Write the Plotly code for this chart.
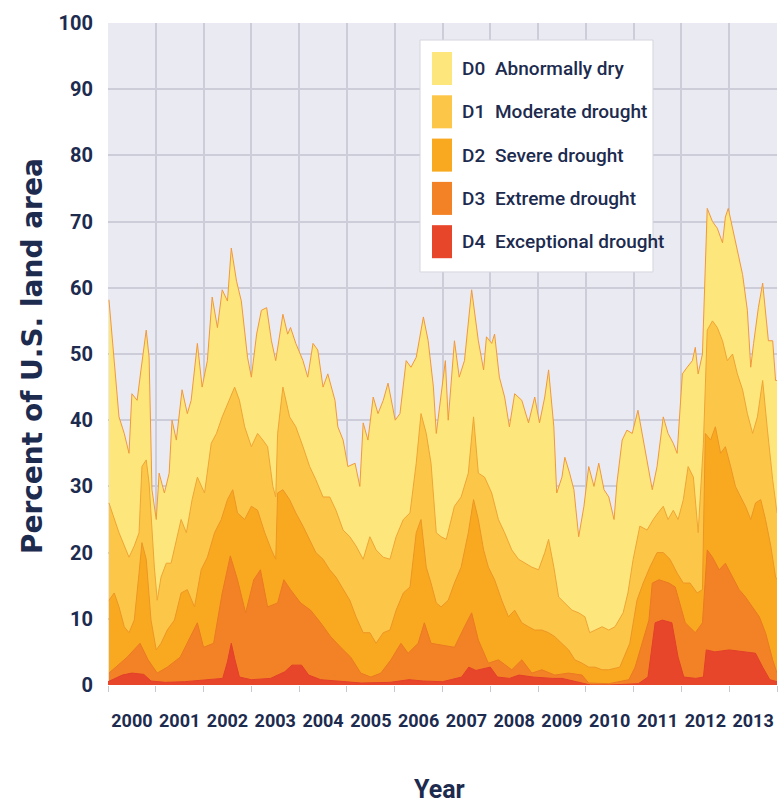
import plotly.graph_objects as go

# ---------------- data (decimal years, percent of U.S. land area, cumulative) ----------------
years = list(range(2000, 2014))
year_labels = [str(y) for y in years]
y_ticks = [0, 10, 20, 30, 40, 50, 60, 70, 80, 90, 100]

series_codes = ["D0", "D1", "D2", "D3", "D4"]
series_names = ["Abnormally dry", "Moderate drought", "Severe drought",
                "Extreme drought", "Exceptional drought"]

d0_t = [2000.02, 2000.23, 2000.34, 2000.44, 2000.50, 2000.61, 2000.69, 2000.80, 2000.86, 2000.92,
        2001.01, 2001.07, 2001.18, 2001.28, 2001.34, 2001.43, 2001.55, 2001.66, 2001.74, 2001.87,
        2001.97, 2002.08, 2002.18, 2002.29, 2002.39, 2002.50, 2002.58, 2002.69, 2002.79, 2002.92,
        2003.00, 2003.11, 2003.21, 2003.32, 2003.42, 2003.51, 2003.66, 2003.76, 2003.82, 2003.93,
        2004.08, 2004.18, 2004.29, 2004.39, 2004.50, 2004.60, 2004.75, 2004.81, 2004.92, 2005.02,
        2005.17, 2005.27, 2005.34, 2005.44, 2005.55, 2005.65, 2005.76, 2005.86, 2006.01, 2006.11,
        2006.24, 2006.34, 2006.45, 2006.60, 2006.70, 2006.81, 2006.87, 2006.97, 2007.06, 2007.12,
        2007.25, 2007.35, 2007.46, 2007.61, 2007.75, 2007.86, 2007.92, 2008.03, 2008.09, 2008.19,
        2008.30, 2008.40, 2008.51, 2008.66, 2008.80, 2008.93, 2009.03, 2009.14, 2009.22, 2009.33,
        2009.39, 2009.50, 2009.56, 2009.66, 2009.75, 2009.85, 2009.96, 2010.06, 2010.17, 2010.27,
        2010.38, 2010.48, 2010.59, 2010.65, 2010.76, 2010.86, 2010.97, 2011.09, 2011.20, 2011.30,
        2011.39, 2011.49, 2011.62, 2011.72, 2011.83, 2011.91, 2012.02, 2012.12, 2012.23, 2012.29,
        2012.35, 2012.44, 2012.54, 2012.65, 2012.75, 2012.86, 2012.92, 2012.98, 2013.07, 2013.17,
        2013.28, 2013.38, 2013.45, 2013.51, 2013.61, 2013.70, 2013.76, 2013.82, 2013.91, 2013.97,
        2014.00]
d0_v = [58.2, 40.5, 38.0, 35.0, 44.0, 43.0, 47.6, 53.6, 49.5, 29.5,
        25.0, 32.0, 29.0, 32.0, 40.0, 37.0, 44.6, 41.0, 43.0, 51.6,
        45.0, 49.0, 58.6, 54.0, 59.7, 58.0, 66.0, 61.0, 58.0, 49.5,
        46.5, 53.0, 56.6, 57.0, 52.0, 49.0, 56.0, 53.0, 54.0, 51.6,
        49.0, 46.5, 51.6, 50.6, 45.0, 47.0, 43.0, 39.0, 37.0, 33.0,
        33.5, 30.0, 39.6, 37.0, 43.5, 41.0, 43.0, 45.6, 40.0, 41.0,
        49.0, 48.0, 49.5, 55.6, 52.0, 45.0, 38.0, 44.0, 49.0, 40.0,
        52.0, 46.5, 49.0, 59.7, 52.0, 47.6, 52.6, 51.6, 53.0, 46.5,
        43.5, 39.0, 44.0, 43.0, 39.6, 43.5, 39.6, 43.5, 47.6, 39.0,
        29.0, 31.4, 34.4, 32.0, 29.5, 22.4, 27.0, 33.0, 30.0, 33.5,
        29.5, 28.4, 25.0, 30.5, 37.0, 38.5, 38.0, 41.5, 37.0, 33.0,
        29.5, 33.0, 40.5, 38.0, 36.5, 35.0, 47.0, 48.0, 49.0, 51.0,
        47.0, 50.0, 72.0, 70.0, 69.0, 66.8, 70.7, 72.0, 69.0, 66.0,
        62.0, 56.6, 48.0, 51.6, 57.0, 60.7, 56.0, 52.0, 52.0, 46.0,
        46.0]

d1_t = [2000.02, 2000.23, 2000.44, 2000.55, 2000.65, 2000.71, 2000.80, 2000.86, 2000.97, 2001.03,
        2001.11, 2001.22, 2001.32, 2001.43, 2001.53, 2001.64, 2001.76, 2001.87, 2002.02, 2002.16,
        2002.27, 2002.39, 2002.54, 2002.65, 2002.75, 2002.86, 2003.00, 2003.13, 2003.24, 2003.34,
        2003.45, 2003.51, 2003.55, 2003.66, 2003.80, 2003.93, 2004.08, 2004.22, 2004.35, 2004.50,
        2004.64, 2004.77, 2004.92, 2005.06, 2005.19, 2005.34, 2005.48, 2005.61, 2005.76, 2005.90,
        2006.03, 2006.18, 2006.32, 2006.45, 2006.55, 2006.66, 2006.76, 2006.87, 2006.97, 2007.08,
        2007.25, 2007.39, 2007.54, 2007.65, 2007.75, 2007.88, 2008.03, 2008.17, 2008.30, 2008.45,
        2008.59, 2008.72, 2008.87, 2009.01, 2009.14, 2009.22, 2009.33, 2009.43, 2009.56, 2009.71,
        2009.85, 2009.98, 2010.08, 2010.19, 2010.34, 2010.48, 2010.61, 2010.78, 2010.88, 2010.99,
        2011.13, 2011.28, 2011.41, 2011.51, 2011.62, 2011.72, 2011.83, 2011.93, 2012.04, 2012.14,
        2012.25, 2012.35, 2012.46, 2012.54, 2012.65, 2012.75, 2012.86, 2012.96, 2013.07, 2013.17,
        2013.28, 2013.38, 2013.49, 2013.59, 2013.70, 2013.80, 2013.91, 2014.00]
d1_v = [27.5, 23.0, 19.3, 21.0, 23.0, 33.0, 34.0, 30.5, 17.8, 12.8,
        16.3, 18.4, 18.4, 22.0, 25.0, 23.0, 28.0, 31.4, 29.0, 36.5,
        38.0, 40.5, 43.0, 45.0, 43.0, 39.0, 36.0, 38.0, 37.0, 36.0,
        30.0, 28.4, 38.0, 45.0, 40.5, 39.0, 36.0, 33.0, 31.0, 28.4,
        28.4, 26.4, 23.4, 22.4, 21.0, 19.0, 22.4, 20.4, 19.3, 19.0,
        22.4, 25.0, 26.0, 33.5, 41.0, 38.0, 33.5, 23.0, 22.4, 22.0,
        27.0, 28.4, 32.0, 40.5, 32.0, 31.4, 29.0, 25.0, 23.0, 20.4,
        19.0, 18.4, 17.8, 17.4, 20.0, 22.0, 17.8, 13.3, 12.4, 11.3,
        10.9, 10.3, 7.9, 8.3, 8.8, 8.3, 8.8, 10.9, 13.9, 19.0,
        24.0, 23.4, 25.0, 26.0, 27.0, 25.0, 26.4, 25.0, 28.0, 33.0,
        31.4, 23.0, 36.5, 53.6, 55.0, 54.0, 52.0, 49.0, 50.0, 47.0,
        44.6, 41.0, 38.0, 40.5, 46.0, 38.5, 31.0, 26.0]

d2_t = [2000.02, 2000.13, 2000.23, 2000.34, 2000.44, 2000.55, 2000.65, 2000.71, 2000.80, 2000.90,
        2001.01, 2001.11, 2001.24, 2001.39, 2001.53, 2001.66, 2001.81, 2001.95, 2002.08, 2002.23,
        2002.37, 2002.50, 2002.61, 2002.71, 2002.86, 2003.00, 2003.13, 2003.28, 2003.42, 2003.51,
        2003.55, 2003.66, 2003.80, 2003.93, 2004.08, 2004.22, 2004.35, 2004.50, 2004.64, 2004.77,
        2004.92, 2005.06, 2005.19, 2005.34, 2005.48, 2005.61, 2005.76, 2005.90, 2006.03, 2006.18,
        2006.32, 2006.45, 2006.55, 2006.66, 2006.76, 2006.87, 2006.97, 2007.12, 2007.25, 2007.39,
        2007.54, 2007.65, 2007.75, 2007.86, 2007.96, 2008.09, 2008.24, 2008.38, 2008.51, 2008.66,
        2008.80, 2008.93, 2009.08, 2009.22, 2009.35, 2009.50, 2009.64, 2009.77, 2009.92, 2010.06,
        2010.19, 2010.34, 2010.48, 2010.71, 2010.92, 2011.07, 2011.20, 2011.34, 2011.49, 2011.62,
        2011.76, 2011.91, 2012.04, 2012.18, 2012.33, 2012.44, 2012.50, 2012.61, 2012.71, 2012.82,
        2012.92, 2013.03, 2013.13, 2013.24, 2013.34, 2013.45, 2013.55, 2013.66, 2013.76, 2013.87,
        2013.97, 2014.00]
d2_v = [12.8, 13.9, 11.8, 8.8, 7.9, 9.8, 16.9, 21.5, 19.0, 9.8,
        5.3, 6.3, 8.3, 9.8, 13.9, 14.4, 11.8, 17.4, 19.3, 23.0,
        25.0, 28.0, 29.5, 26.0, 25.0, 27.0, 26.4, 23.0, 20.4, 19.0,
        29.0, 29.5, 28.0, 26.0, 24.0, 22.0, 20.0, 19.0, 17.4, 16.3,
        14.4, 12.8, 10.3, 7.9, 7.9, 6.3, 7.9, 8.3, 11.3, 13.9,
        14.8, 23.0, 25.0, 17.8, 15.4, 12.4, 11.8, 12.8, 15.4, 17.8,
        23.0, 28.0, 25.0, 20.4, 17.8, 15.9, 12.8, 10.3, 11.3, 9.4,
        8.8, 8.3, 8.3, 7.9, 7.3, 6.3, 5.3, 3.8, 3.3, 2.7,
        2.7, 2.3, 2.3, 2.7, 6.3, 12.8, 15.4, 17.8, 20.0, 20.0,
        19.0, 16.9, 15.4, 15.4, 13.9, 14.4, 38.0, 37.0, 39.0, 35.0,
        36.0, 33.0, 30.0, 28.4, 27.0, 25.0, 27.5, 28.0, 25.0, 21.0,
        16.3, 16.0]

d3_t = [2000.02, 2000.40, 2000.67, 2000.84, 2001.03, 2001.24, 2001.51, 2001.72, 2001.87, 2002.00,
        2002.21, 2002.39, 2002.56, 2002.71, 2002.88, 2003.05, 2003.19, 2003.34, 2003.55, 2003.68,
        2003.82, 2004.03, 2004.24, 2004.45, 2004.66, 2004.87, 2005.08, 2005.29, 2005.50, 2005.71,
        2005.92, 2006.13, 2006.28, 2006.49, 2006.62, 2006.76, 2006.97, 2007.25, 2007.46, 2007.61,
        2007.75, 2007.96, 2008.17, 2008.45, 2008.66, 2008.87, 2009.08, 2009.35, 2009.64, 2009.92,
        2010.06, 2010.48, 2010.90, 2011.03, 2011.32, 2011.39, 2011.53, 2011.74, 2011.87, 2011.95,
        2012.08, 2012.29, 2012.44, 2012.54, 2012.65, 2012.79, 2012.92, 2013.07, 2013.21, 2013.34,
        2013.49, 2013.63, 2013.76, 2013.91, 2014.00]
d3_v = [1.8, 4.2, 6.3, 3.8, 1.8, 2.7, 4.2, 7.3, 9.4, 5.7,
        6.3, 13.9, 19.5, 15.9, 10.9, 15.9, 17.4, 11.8, 12.4, 15.9,
        14.4, 12.4, 11.3, 9.4, 7.3, 5.7, 4.2, 1.8, 1.2, 1.8,
        3.8, 6.3, 4.8, 6.3, 9.4, 6.3, 6.0, 5.7, 8.8, 10.9,
        6.8, 3.3, 3.8, 2.3, 3.8, 1.8, 2.3, 1.5, 1.8, 1.5,
        0.3, 0.2, 0.8, 2.7, 9.8, 15.4, 15.9, 15.4, 14.8, 12.8,
        9.4, 7.9, 9.4, 20.4, 19.3, 17.4, 18.4, 16.3, 14.4, 13.3,
        11.8, 10.3, 7.9, 3.8, 1.8]

d4_t = [2000.00, 2000.30, 2000.50, 2000.75, 2000.90, 2001.20, 2001.60, 2002.00, 2002.40, 2002.50,
        2002.58, 2002.65, 2002.75, 2003.00, 2003.40, 2003.70, 2003.85, 2004.05, 2004.20, 2004.45,
        2004.80, 2005.30, 2005.90, 2006.30, 2006.60, 2007.00, 2007.40, 2007.55, 2007.70, 2008.00,
        2008.15, 2008.40, 2008.60, 2008.90, 2009.30, 2009.50, 2009.80, 2010.10, 2010.50, 2011.10,
        2011.30, 2011.38, 2011.45, 2011.60, 2011.80, 2011.93, 2012.05, 2012.30, 2012.46, 2012.52,
        2012.70, 2013.00, 2013.30, 2013.55, 2013.70, 2013.85, 2014.00]
d4_v = [0.5, 1.5, 1.8, 1.6, 0.6, 0.4, 0.5, 0.8, 1.0, 3.5,
        6.3, 4.0, 1.2, 0.8, 1.0, 2.0, 3.0, 3.0, 1.5, 0.8,
        0.6, 0.3, 0.4, 0.8, 0.6, 0.5, 1.2, 2.7, 2.2, 2.7,
        1.2, 1.0, 1.5, 1.2, 1.0, 1.0, 0.5, 0.0, 0.0, 0.2,
        1.2, 6.0, 9.4, 9.8, 9.4, 4.2, 1.2, 1.0, 1.2, 5.3,
        5.0, 5.3, 5.0, 4.8, 2.7, 0.8, 0.5]

# ---------------- styles ----------------
fill_colors = ["#fde67c", "#fcc649", "#f9a920", "#f38226", "#e8462b"]
line_colors = ["#f2983a", "#f0a534", "#ee9624", "#eb7a22", "#e2402a"]
navy = "#1d2b4f"
narrow = "Roboto, Liberation Sans, sans-serif"

fig = go.Figure()
all_t = [d0_t, d1_t, d2_t, d3_t, d4_t]
all_v = [d0_v, d1_v, d2_v, d3_v, d4_v]
for code, name, t, v, fc, lc in zip(series_codes, series_names, all_t, all_v, fill_colors, line_colors):
    fig.add_trace(go.Scatter(
        x=t, y=v, mode="lines", fill="tozeroy", fillcolor=fc,
        line=dict(color=lc, width=1), name=f"{code} {name}", showlegend=False,
        hoverinfo="skip"))

# manual legend (shapes + text)
lx0, lx1, ly0, ly1 = 0.4664, 0.8146, 0.6239, 0.9743
fig.add_shape(type="rect", xref="paper", yref="paper", x0=lx0, x1=lx1, y0=ly0, y1=ly1,
              fillcolor="white", line=dict(color="#d6d6de", width=1), layer="above")
step = 0.0654
for i, (code, name, fc) in enumerate(zip(series_codes, series_names, fill_colors)):
    top = 0.9562 - i * step
    fig.add_shape(type="rect", xref="paper", yref="paper", x0=0.4843, x1=0.5142,
                  y0=top - 0.0499, y1=top, fillcolor=fc, line=dict(width=0), layer="above")
    yc = top - 0.025
    fig.add_annotation(xref="paper", yref="paper", x=0.5262, y=yc, text=code,
                       showarrow=False, xanchor="left", yanchor="middle",
                       font=dict(family=narrow, size=19, color=navy, weight=500))
    fig.add_annotation(xref="paper", yref="paper", x=0.5755, y=yc, text=name,
                       showarrow=False, xanchor="left", yanchor="middle",
                       font=dict(family=narrow, size=19, color=navy, weight=500))

# axis titles
fig.add_annotation(xref="paper", yref="paper", x=-0.112, y=0.497, text="Percent of U.S. land area",
                   textangle=-90, showarrow=False, xanchor="center", yanchor="middle",
                   font=dict(family="DejaVu Sans", size=28, color=navy, weight="bold"))
fig.add_annotation(xref="paper", yref="paper", x=0.496, y=-0.1586, text="Year",
                   showarrow=False, xanchor="center", yanchor="middle",
                   font=dict(family=narrow, size=25, color=navy, weight="bold"))

grid_color = "#cdcdda"
fig.update_xaxes(
    range=[2000, 2014], tickmode="array",
    tickvals=[y + 0.5 for y in years], ticktext=year_labels,
    ticks="", showgrid=False, zeroline=False, showline=False, tickangle=0, automargin=False,
    tickfont=dict(family=narrow, size=18, color=navy, weight="bold"),
    ticklabelstandoff=23,
    minor=dict(tickmode="array", tickvals=list(range(2000, 2015)), showgrid=True,
               gridcolor=grid_color, gridwidth=1.5, ticks="outside", ticklen=6,
               tickcolor="#c8c8d4", tickwidth=1),
)
fig.update_yaxes(
    range=[0, 100], tickmode="array", tickvals=y_ticks,
    ticktext=[str(v) for v in y_ticks],
    showgrid=True, gridcolor=grid_color, gridwidth=1.5, zeroline=False, showline=False,
    ticks="", ticklabelstandoff=14, automargin=False,
    tickfont=dict(family=narrow, size=20, color=navy, weight="bold"),
)
fig.update_layout(
    width=782, height=807,
    margin=dict(l=108, r=5, t=23, b=122),
    paper_bgcolor="white", plot_bgcolor="#eaeaf3",
    showlegend=False,
)
fig.write_html("out.html", config={"displayModeBar": False},
               post_script="document.body.style.margin='0';document.body.style.overflow='hidden';")
